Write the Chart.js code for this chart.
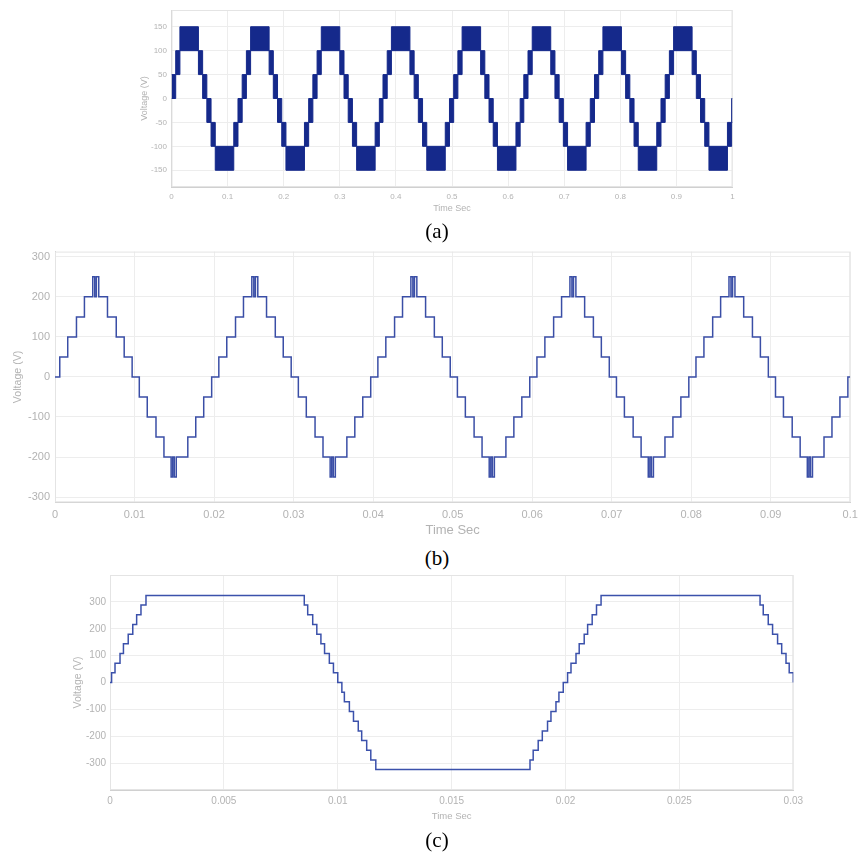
<!DOCTYPE html>
<html>
<head>
<meta charset="utf-8">
<script src="https://cdn.jsdelivr.net/npm/chart.js@4.4.1/dist/chart.umd.min.js"></script>
<style>
  html, body { margin: 0; padding: 0; background: #fff; }
  body { width: 864px; height: 854px; position: relative; overflow: hidden; }
  .box { position: absolute; left: 0; width: 864px; }
  .cap { position: absolute; left: 387px; width: 100px; text-align: center;
         font-family: "Liberation Serif", "Times New Roman", serif; font-size: 21px; line-height: 24px; color: #000; }
</style>
</head>
<body>
<div class="box" style="top:0;height:222px"><canvas id="chartA"></canvas></div>
<div class="cap" style="top:219px">(a)</div>
<div class="box" style="top:240px;height:305px"><canvas id="chartB"></canvas></div>
<div class="cap" style="top:546px">(b)</div>
<div class="box" style="top:565px;height:265px"><canvas id="chartC"></canvas></div>
<div class="cap" style="top:828px">(c)</div>
<script>
// ---- (a) 7-level output, switching band per interval (start time in cycle, band top, band bottom)
const aBandStart  = [0, 0.0075, 0.015, 0.048, 0.0555, 0.063, 0.0705, 0.078, 0.111, 0.1185];
const aBandTop    = [50, 100, 150, 100, 50, 0, -50, -100, -50, 0];
const aBandBottom = [0, 50, 100, 50, 0, -50, -100, -150, -100, -50];
const aCycleStart = [0, 0.126, 0.252, 0.377, 0.503, 0.628, 0.754, 0.88];
const aXTicks = [0, 0.1, 0.2, 0.3, 0.4, 0.5, 0.6, 0.7, 0.8, 0.9, 1];
const aYTicks = [-150, -100, -50, 0, 50, 100, 150];

// ---- (b) 9-level staircase, one cycle: switching instant and level after it
const bStepTime  = [0, 0.0006, 0.0016, 0.0027, 0.0037, 0.00475, 0.005, 0.0052, 0.0055,
                    0.0066, 0.0077, 0.0087, 0.0097, 0.0106, 0.0116, 0.0127, 0.0137,
                    0.0146, 0.0148, 0.015, 0.01525, 0.0167, 0.0177, 0.0187, 0.0197];
const bStepLevel = [0, 50, 100, 150, 200, 250, 200, 250, 200,
                    150, 100, 50, 0, -50, -100, -150, -200,
                    -250, -200, -250, -200, -150, -100, -50, 0];
const bCycleStart = [0, 0.02, 0.04, 0.06, 0.08];
const bXTicks = [0, 0.01, 0.02, 0.03, 0.04, 0.05, 0.06, 0.07, 0.08, 0.09, 0.1];
const bYTicks = [-300, -200, -100, 0, 100, 200, 300];

// ---- (c) trapezoidal staircase: switching instant and level after it
const cStepTime = [
  0.00007, 0.00022, 0.00044, 0.00059, 0.0008, 0.001, 0.00117, 0.00136, 0.00158,
  0.00853, 0.00868, 0.0089, 0.00908, 0.00926, 0.00942, 0.00963, 0.00981, 0.01,
  0.01018, 0.01029, 0.01051, 0.01069, 0.0109, 0.01105, 0.01127, 0.01145, 0.01167,
  0.01844, 0.01858, 0.0188, 0.01898, 0.01921, 0.01936, 0.01958, 0.01971, 0.0199,
  0.02009, 0.02024, 0.02046, 0.0206, 0.02082, 0.02097, 0.02117, 0.02136, 0.02156,
  0.02854, 0.02868, 0.0289, 0.02909, 0.02931, 0.02949, 0.02968, 0.02982, 0.03];
const cStepLevel = [
  36, 72, 108, 144, 180, 216, 252, 288, 324,
  288, 252, 216, 180, 144, 108, 72, 36, 0,
  -36, -72, -108, -144, -180, -216, -252, -288, -324,
  -288, -252, -216, -180, -144, -108, -72, -36, 0,
  36, 72, 108, 144, 180, 216, 252, 288, 324,
  288, 252, 216, 180, 144, 108, 72, 36, 0];
const cXTicks = [0, 0.005, 0.01, 0.015, 0.02, 0.025, 0.03];
const cYTicks = [-300, -200, -100, 0, 100, 200, 300];

Chart.defaults.font.family = '"Liberation Sans", Arial, sans-serif';
Chart.defaults.animation = false;

const labelGrey = '#b3b3b3';
const gridGrey = '#ededed';

// light frame round the plot area, like the original figure
const frame = {
  id: 'frame',
  beforeDatasetsDraw(chart) {
    const { ctx, chartArea: a } = chart;
    ctx.save();
    ctx.strokeStyle = '#e4e4e4';
    ctx.lineWidth = 1;
    ctx.strokeRect(a.left + 0.5, a.top + 0.5, a.right - a.left - 1, a.bottom - a.top - 1);
    ctx.restore();
  }
};

function makeOptions(o) {
  return {
    responsive: true,
    maintainAspectRatio: false,
    layout: { padding: o.pad },
    plugins: { legend: { display: false }, tooltip: { enabled: false } },
    scales: {
      x: {
        type: 'linear', min: o.xMin, max: o.xMax,
        afterBuildTicks: s => { s.ticks = o.xTicks.map(v => ({ value: v })); },
        afterFit: s => { s.height = o.xHeight; },
        grid: { color: gridGrey, drawTicks: false },
        border: { color: '#d0d0d0' },
        ticks: { color: labelGrey, font: { size: o.tickSize }, padding: o.xPad,
                 maxRotation: 0, autoSkip: false, callback: v => String(v) },
        title: { display: true, text: 'Time Sec', color: labelGrey, font: { size: o.xTitleSize }, padding: 4 }
      },
      y: {
        min: o.yMin, max: o.yMax,
        afterBuildTicks: s => { s.ticks = o.yTicks.map(v => ({ value: v })); },
        afterFit: s => { s.width = o.yWidth; },
        grid: { color: gridGrey, drawTicks: false },
        border: { color: '#d0d0d0' },
        ticks: { color: labelGrey, font: { size: o.tickSize }, padding: o.yPad, callback: v => String(v) },
        title: { display: true, text: 'Voltage (V)', color: labelGrey, font: { size: o.yTitleSize }, padding: 4 }
      }
    }
  };
}

function repeatCycles(starts, times, levels, end) {
  const pts = [];
  starts.forEach(c => {
    times.forEach((t, i) => { if (c + t < end) pts.push({ x: c + t, y: levels[i] }); });
  });
  pts.push({ x: end, y: pts[pts.length - 1].y });
  return pts;
}

// (a)
const navy = '#15298b';
new Chart(document.getElementById('chartA'), {
  type: 'line',
  data: {
    datasets: [
      { data: repeatCycles(aCycleStart, aBandStart, aBandTop, 1), stepped: true,
        borderColor: navy, borderWidth: 1, pointRadius: 0, fill: false },
      { data: repeatCycles(aCycleStart, aBandStart, aBandBottom, 1), stepped: true,
        borderColor: navy, borderWidth: 1, pointRadius: 0, fill: '-1', backgroundColor: navy }
    ]
  },
  options: makeOptions({
    pad: { left: 135.6, right: 131.5, top: 10, bottom: 4.3 },
    xMin: 0, xMax: 1, xTicks: aXTicks, yMin: -185, yMax: 185, yTicks: aYTicks,
    xHeight: 30.7, yWidth: 35.9, tickSize: 8, xPad: 5, yPad: 4.5,
    xTitleSize: 9, yTitleSize: 9
  }),
  plugins: [frame]
});

// (b)
new Chart(document.getElementById('chartB'), {
  type: 'line',
  data: {
    datasets: [{
      data: repeatCycles(bCycleStart, bStepTime, bStepLevel, 0.1), stepped: true,
      borderColor: '#3a4ea6', borderWidth: 1.5, pointRadius: 0, fill: false
    }]
  },
  options: makeOptions({
    pad: { left: 7.9, right: 7.3, top: 9.3, bottom: 3.2 },
    xMin: 0, xMax: 0.1, xTicks: bXTicks, yMin: -313, yMax: 313, yTicks: bYTicks,
    xHeight: 39.5, yWidth: 47.1, tickSize: 11, xPad: 6.1, yPad: 5,
    xTitleSize: 13, yTitleSize: 10.6
  }),
  plugins: [frame]
});

// (c)
const cPoints = [{ x: 0, y: 0 }].concat(cStepTime.map((t, i) => ({ x: t, y: cStepLevel[i] })));
new Chart(document.getElementById('chartC'), {
  type: 'line',
  data: {
    datasets: [{
      data: cPoints, stepped: true,
      borderColor: '#3b51ab', borderWidth: 1.5, pointRadius: 0, fill: false
    }]
  },
  options: makeOptions({
    pad: { left: 68, right: 70.7, top: 10, bottom: 4.3 },
    xMin: 0, xMax: 0.03, xTicks: cXTicks, yMin: -400, yMax: 400, yTicks: cYTicks,
    xHeight: 35.7, yWidth: 42, tickSize: 10, xPad: 5, yPad: 4,
    xTitleSize: 9.5, yTitleSize: 10.5
  }),
  plugins: [frame]
});
</script>
</body>
</html>
